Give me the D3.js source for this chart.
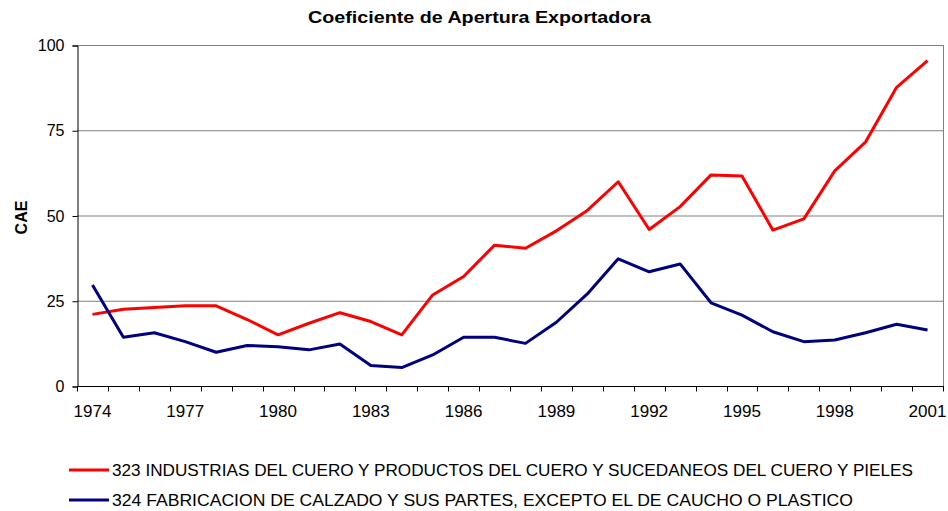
<!DOCTYPE html>
<meta charset="utf-8">
<script src="https://d3js.org/d3.v7.min.js"></script>
<style>
  body { margin: 0; background: #fff; }
  text { font-family: "Liberation Sans", Arial, sans-serif; }
</style>
<div id="chart"></div>
<script>
    // data
    var years = d3.range(1974, 2002);
    var cuero = [21.0, 22.5, 23.0, 23.5, 23.5, 19.5, 15.0, 18.4, 21.5, 18.9,
                 15.0, 26.7, 32.1, 41.3, 40.4, 45.5, 51.5, 59.9, 45.9, 52.6,
                 61.9, 61.6, 45.7, 49.0, 63.1, 71.6, 87.6, 95.4];
    var calzado = [29.6, 14.3, 15.6, 13.0, 9.9, 11.9, 11.5, 10.6, 12.3, 6.0,
                   5.4, 9.1, 14.3, 14.3, 12.5, 18.7, 27.0, 37.3, 33.5, 35.8,
                   24.4, 20.8, 15.9, 13.0, 13.5, 15.6, 18.1, 16.4];
    var yTicks = [0, 25, 50, 75, 100];
    var xLabels = [1974, 1977, 1980, 1983, 1986, 1989, 1992, 1995, 1998, 2001];
    var seriesNames = [
        "323 INDUSTRIAS DEL CUERO Y PRODUCTOS DEL CUERO Y SUCEDANEOS DEL CUERO Y PIELES",
        "324 FABRICACION DE CALZADO Y SUS PARTES, EXCEPTO EL DE CAUCHO O PLASTICO"
    ];
    var seriesColors = ["#ff0000", "#000080"];

    var width = 948, height = 511;
    var plot = {left: 77, right: 943, top: 45, bottom: 386};

    var svg = d3.select("#chart").append("svg")
        .attr("width", width)
        .attr("height", height);

    var x = d3.scaleBand()
        .domain(years)
        .range([plot.left, plot.right]);

    var y = d3.scaleLinear()
        .domain([0, 100])
        .range([plot.bottom, plot.top]);

    // title
    svg.append("text")
        .attr("x", 308)
        .attr("y", 23)
        .attr("font-size", "16px")
        .attr("font-weight", "bold")
        .attr("textLength", 343)
        .attr("lengthAdjust", "spacingAndGlyphs")
        .text("Coeficiente de Apertura Exportadora");

    // gridlines
    svg.append("g")
        .selectAll("line")
        .data(yTicks.filter(function(d) { return d > 0; }))
        .enter()
        .append("line")
        .attr("x1", plot.left)
        .attr("x2", plot.right)
        .attr("y1", function(d) { return y(d) + 0.5; })
        .attr("y2", function(d) { return y(d) + 0.5; })
        .attr("stroke", "#808080")
        .attr("stroke-width", 1);

    // right border
    svg.append("line")
        .attr("x1", plot.right + 0.5)
        .attr("x2", plot.right + 0.5)
        .attr("y1", plot.top)
        .attr("y2", plot.bottom)
        .attr("stroke", "#808080");

    // y axis
    var yAxis = svg.append("g")
        .attr("transform", "translate(" + (plot.left + 0.5) + ",0.5)")
        .call(d3.axisLeft(y).tickValues(yTicks).tickSize(5).tickPadding(8));
    yAxis.select(".domain").attr("stroke", "#000");
    yAxis.selectAll("text")
        .attr("font-size", "16px")
        .attr("font-family", "Liberation Sans, Arial, sans-serif")
        .attr("fill", "#000");

    // x axis: ticks between categories, labels every 3 years
    var xAxisG = svg.append("g")
        .attr("transform", "translate(0," + (plot.bottom + 0.5) + ")");
    xAxisG.append("line")
        .attr("x1", plot.left)
        .attr("x2", plot.right + 1)
        .attr("stroke", "#000");
    xAxisG.selectAll(".tick")
        .data(years.concat([2002]))
        .enter()
        .append("line")
        .attr("x1", function(d) { return Math.round(plot.left + (d - 1974) * x.step()) + 0.5; })
        .attr("x2", function(d) { return Math.round(plot.left + (d - 1974) * x.step()) + 0.5; })
        .attr("y1", 0)
        .attr("y2", 5)
        .attr("stroke", "#000");
    xAxisG.selectAll(".lbl")
        .data(xLabels)
        .enter()
        .append("text")
        .attr("x", function(d) { return x(d) + x.bandwidth() / 2; })
        .attr("y", 30)
        .attr("text-anchor", "middle")
        .attr("font-size", "17px")
        .text(function(d) { return d; });

    // y axis title
    svg.append("text")
        .attr("transform", "translate(27," + (y(50) + 2) + ") rotate(-90)")
        .attr("text-anchor", "middle")
        .attr("font-size", "16px")
        .attr("font-weight", "bold")
        .text("CAE");

    // lines
    var line = d3.line()
        .x(function(d, i) { return x(years[i]) + x.bandwidth() / 2; })
        .y(function(d) { return y(d); });

    [cuero, calzado].forEach(function(s, i) {
        svg.append("path")
            .datum(s)
            .attr("fill", "none")
            .attr("stroke", seriesColors[i])
            .attr("stroke-width", 3)
            .attr("stroke-linejoin", "round")
            .attr("d", line);
    });

    // legend
    var textLengths = [801, 741];
    var legend = svg.append("g");
    seriesNames.forEach(function(name, i) {
        var ly = 470 + i * 30;
        legend.append("line")
            .attr("x1", 69)
            .attr("x2", 109)
            .attr("y1", ly)
            .attr("y2", ly)
            .attr("stroke", seriesColors[i])
            .attr("stroke-width", 3);
        legend.append("text")
            .attr("x", 112)
            .attr("y", ly + 6)
            .attr("font-size", "17px")
            .attr("textLength", textLengths[i])
            .attr("lengthAdjust", "spacingAndGlyphs")
            .text(name);
    });
</script>
